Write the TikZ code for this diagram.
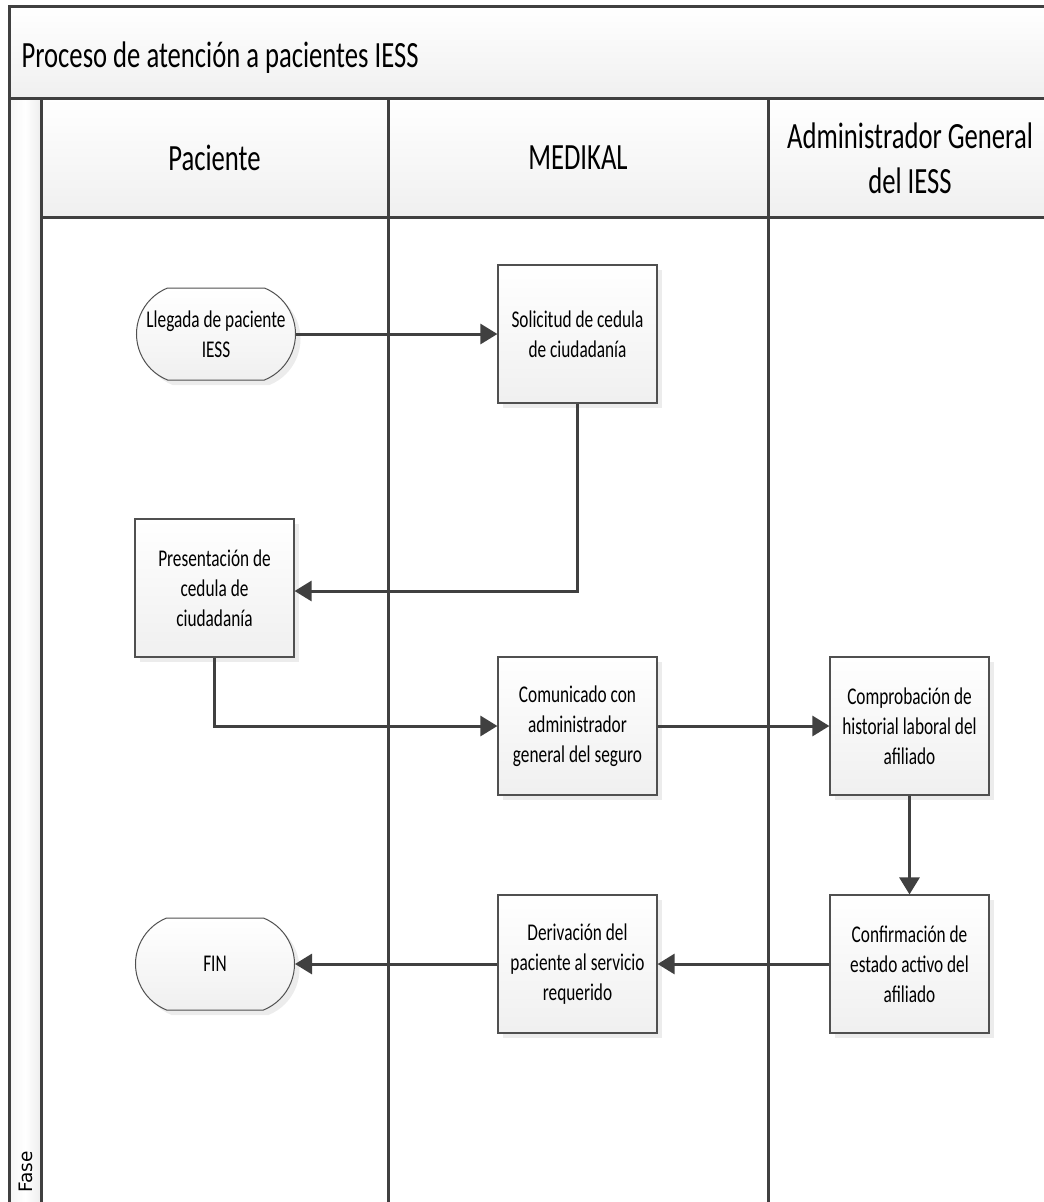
\documentclass[tikz,border=0pt]{standalone}
\usepackage{fontspec}
\setmainfont{Carlito}[FakeStretch=0.72]
\newfontfamily\fasefont{DejaVu Sans}
\usetikzlibrary{arrows.meta,shapes.misc,shadows}
\definecolor{ln}{HTML}{404040}
\definecolor{bd}{HTML}{505050}
\begin{document}
\begin{tikzpicture}[x=1pt,y=-1pt,
  procbox/.style={draw=bd, line width=1.2pt, top color=white, bottom color=gray!12,
    minimum width=159pt, minimum height=138pt, inner sep=2pt, align=center,
    font=\fontsize{24}{30}\selectfont,
    drop shadow={shadow xshift=5pt, shadow yshift=-5pt, fill=black!15}},
  termbox/.style={rounded rectangle, rounded rectangle arc length=136, draw=bd,
    line width=1pt, top color=white, bottom color=gray!12,
    minimum width=159pt, minimum height=92pt, inner sep=0pt,
    drop shadow={shadow xshift=5pt, shadow yshift=-5pt, fill=black!15}},
  termtext/.style={font=\fontsize{24}{30}\selectfont, align=center},
  conn/.style={draw=ln, line width=3pt, -{Triangle[length=17pt,width=20pt]}},
  frame/.style={draw=ln, line width=3pt},
  hdr/.style={font=\fontsize{37}{45}\selectfont, align=center}
]
\useasboundingbox (0,0) rectangle (1044,1202);
\clip (0,0) rectangle (1044,1202);
% pool backgrounds
\fill[top color=white, bottom color=gray!12] (9,6) rectangle (1060,98);
\fill[top color=white, bottom color=gray!12] (41,98) rectangle (1060,217);
\fill[left color=gray!8, right color=gray!14, middle color=white] (9,98) rectangle (41,1215);
% frame lines
\draw[frame] (9,6) rectangle (1060,1215);
\draw[frame] (9,98) -- (1060,98);
\draw[frame] (41,98) -- (41,1215);
\draw[frame] (41,217) -- (1060,217);
\draw[frame] (388,98) -- (388,1215);
\draw[frame] (768,98) -- (768,1215);
% texts
\node[anchor=base west, font=\fontsize{37}{45}\selectfont] (title) at (18,67) {Proceso de atención a pacientes IESS};
\node[hdr] (hpac) at (214.5,158) {Paciente};
\node[hdr] (hmed) at (578,158) {MEDIKAL};
\node[hdr] (hadm) at (910,158) {Administrador General\\del IESS};
\node[rotate=90, anchor=base west, font=\fasefont\fontsize{18.5}{22}\selectfont] (fase) at (32.5,1196) {Fase};
% nodes
\node[termbox, label={[termtext]center:Llegada de paciente\\IESS}] (lleg) at (216,334) {};
\node[procbox] (sol) at (577.5,334) {Solicitud de cedula\\de ciudadanía};
\node[procbox] (pres) at (214.5,588) {Presentación de\\cedula de\\ciudadanía};
\node[procbox] (com) at (577.5,726) {Comunicado con\\administrador\\general del seguro};
\node[procbox] (comp) at (909.5,726) {Comprobación de\\historial laboral del\\afiliado};
\node[procbox] (conf) at (909.5,964) {Confirmación de\\estado activo del\\afiliado};
\node[procbox] (der) at (577.5,964) {Derivación del\\paciente al servicio\\requerido};
\node[termbox, label={[termtext]center:FIN}] (fin) at (215,964) {};
% connectors
\draw[conn] (lleg.east) -- (sol.west);
\draw[conn] (sol.south) |- ([yshift=-3pt]pres.east);
\draw[conn] (pres.south) |- (com.west);
\draw[conn] (com.east) -- (comp.west);
\draw[conn] (comp.south) -- (conf.north);
\draw[conn] (conf.west) -- (der.east);
\draw[conn] (der.west) -- (fin.east);
\end{tikzpicture}
\end{document}
